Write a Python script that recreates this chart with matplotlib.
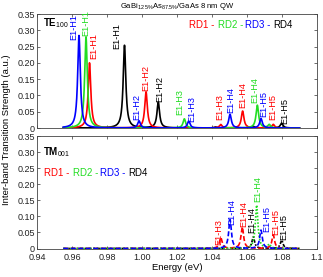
import numpy as np
import matplotlib
matplotlib.use("Agg")
import matplotlib.pyplot as plt

plt.rcParams['font.family'] = ['Liberation Sans', 'DejaVu Sans']
plt.rcParams['mathtext.fontset'] = 'custom'
plt.rcParams['mathtext.rm'] = 'Liberation Sans'
plt.rcParams['mathtext.bf'] = 'Liberation Sans:bold'

# ---------------- data ----------------
series = ["RD1", "RD2", "RD3", "RD4"]
colors = {"RD1": "#ff0000", "RD2": "#22dd22", "RD3": "#0000ff", "RD4": "#000000"}

# TE100 peaks: energies (eV) and strengths (a.u.)
te_E = {
    "RD1": [0.9700, 1.0023, 1.0450, 1.0575, 1.0750],
    "RD2": [0.9680, 1.0010, 1.0242, 1.0659, 1.0727],
    "RD3": [0.9640, 0.9983, 1.0267, 1.0503, 1.0680],
    "RD4": [0.9900, 1.0093, 1.0420, 1.0636, 1.0798],
}
te_S = {
    "RD1": [0.200, 0.111, 0.0105, 0.052, 0.011],
    "RD2": [0.280, 0.004, 0.028, 0.070, 0.010],
    "RD3": [0.284, 0.022, 0.021, 0.042, 0.029],
    "RD4": [0.254, 0.079, 0.003, 0.005, 0.015],
}
# TM001 peaks
tm_E = {
    "RD1": [1.0450, 1.0573, 1.0750],
    "RD2": [1.0655, 1.0727],
    "RD3": [1.0503, 1.0680],
    "RD4": [1.0636, 1.0798],
}
tm_S = {
    "RD1": [0.034, 0.067, 0.042],
    "RD2": [0.135, 0.012],
    "RD3": [0.090, 0.057],
    "RD4": [0.036, 0.026],
}

# peak labels: (series, text, x, y-bottom)
te_labels = [
    ("RD3", "E1-H1", 0.9611, 0.270), ("RD2", "E1-H1", 0.9680, 0.282),
    ("RD1", "E1-H1", 0.9722, 0.212), ("RD4", "E1-H1", 0.9857, 0.242),
    ("RD3", "E1-H2", 0.9970, 0.024), ("RD1", "E1-H2", 1.0023, 0.115),
    ("RD4", "E1-H2", 1.0103, 0.0805), ("RD2", "E1-H3", 1.0217, 0.039),
    ("RD3", "E1-H3", 1.0284, 0.0186), ("RD1", "E1-H3", 1.0446, 0.024),
    ("RD3", "E1-H4", 1.0507, 0.0446), ("RD1", "E1-H4", 1.0575, 0.060),
    ("RD2", "E1-H4", 1.0646, 0.0755), ("RD3", "E1-H5", 1.0693, 0.034),
    ("RD1", "E1-H5", 1.0750, 0.024), ("RD4", "E1-H5", 1.0817, 0.0136),
]
tm_labels = [
    ("RD1", "E1-H3", 1.0436, 0.0103), ("RD3", "E1-H4", 1.0513, 0.0726),
    ("RD1", "E1-H4", 1.0579, 0.067), ("RD4", "E1-H4", 1.0627, 0.047),
    ("RD2", "E1-H4", 1.0663, 0.145), ("RD3", "E1-H5", 1.0712, 0.052),
    ("RD1", "E1-H5", 1.0762, 0.041), ("RD4", "E1-H5", 1.0810, 0.026),
]

xticks = [0.94, 0.96, 0.98, 1.00, 1.02, 1.04, 1.06, 1.08, 1.10]
xticklabels = ["0.94", "0.96", "0.98", "1.00", "1.02", "1.04", "1.06", "1.08", "1.1"]
yticks = [0, 0.05, 0.10, 0.15, 0.20, 0.25, 0.30, 0.35]
yticklabels = ["0", "0.05", "0.10", "0.15", "0.20", "0.25", "0.30", "0.35"]

# ---------------- plotting ----------------
E = np.linspace(0.955, 1.09, 3000)
gamma = 0.0009


def spectrum(cs, ss):
    y = np.zeros_like(E)
    for c, s in zip(cs, ss):
        y += s * gamma**2 / ((E - c)**2 + gamma**2)
    return y


W, H = 323, 277
fig = plt.figure(figsize=(W / 100, H / 100), dpi=100)
axT = fig.add_axes([37 / W, 1 - 128 / H, 280 / W, 114 / H])
axB = fig.add_axes([37 / W, 1 - 248.5 / H, 280 / W, 112.5 / H])

fs = 6.5
lfs = 6.6
order = ["RD4", "RD1", "RD2", "RD3"]
for s in order:
    axT.plot(E, spectrum(te_E[s], te_S[s]), color=colors[s], lw=1.2)
tm_styles = {"RD1": (0, (3, 1.5)), "RD2": (0, (1, 1)), "RD3": (0, (3, 1.5)), "RD4": (0, (2, 1, 1, 1))}
for s in order:
    axB.plot(E, spectrum(tm_E[s], tm_S[s]), color=colors[s], lw=1.2, linestyle=tm_styles[s])

for ax, labels in ((axT, te_labels), (axB, tm_labels)):
    for s, t, x, y in labels:
        ax.text(x, y, t, rotation=90, ha='center', va='bottom', color=colors[s], fontsize=lfs)
    ax.set_xlim(0.94, 1.10)
    ax.set_ylim(0, 0.35)
    ax.set_xticks(xticks)
    ax.set_yticks(yticks)
    ax.set_yticklabels(yticklabels, fontsize=fs)
    ax.tick_params(direction='in', top=True, right=True, length=2.5, width=0.5,
                   pad=1.5, labelsize=fs, colors='#333333', labelcolor='#222222')
    ax.tick_params(axis='x', pad=3)
    for sp in ax.spines.values():
        sp.set_linewidth(0.6)
        sp.set_color('#444444')

axT.set_xticklabels([])
axB.set_xticklabels(xticklabels, fontsize=fs)
axB.set_xlabel("Energy (eV)", fontsize=fs + 0.3, labelpad=1)

fig.text(177 / W, 1 - 6 / H, r"GaBi$_{12.5\%}$As$_{87.5\%}$/GaAs 8 nm QW",
         ha='center', va='center', fontsize=5.5)
fig.text(7 / W, 1 - 130 / H, "Inter-band Transition Strength (a.u.)", rotation=90,
         ha='center', va='center', fontsize=fs + 0.3)

fig.text(43 / W, 1 - 23 / H, r"$\mathbf{TE}_{100}$", ha='left', va='center', fontsize=7)
fig.text(43 / W, 1 - 152 / H, r"$\mathbf{TM}_{001}$", ha='left', va='center', fontsize=7)

leg_txt = ["RD1 -", "RD2 -", "RD3 -", "RD4"]
for xs, yc in (([189, 218, 245, 273], 25), ([44, 72.7, 100, 128], 172.5)):
    for s, t, x in zip(series, leg_txt, xs):
        fig.text(x / W, 1 - yc / H, t, color=colors[s], ha='left', va='center', fontsize=7)

fig.savefig("out.png", dpi=100)
